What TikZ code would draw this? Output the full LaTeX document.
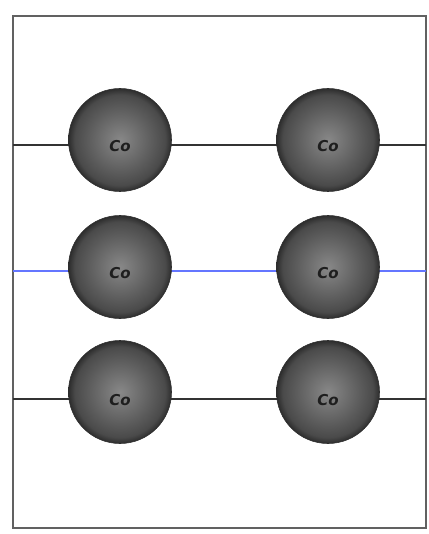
\documentclass[tikz,border=0pt]{standalone}
\usepackage{fontspec}
\usepackage{tikz}
\newfontfamily\cofont{DejaVu Sans}

\definecolor{ballcore}{RGB}{136,136,136}
\definecolor{ballmid}{RGB}{102,102,102}
\definecolor{ballrim}{RGB}{74,74,74}
\definecolor{rimline}{RGB}{45,45,45}
\definecolor{bondblue}{RGB}{100,118,255}
\definecolor{cogray}{RGB}{30,30,30}
\pgfdeclareradialshading{atomball}{\pgfpoint{0bp}{0bp}}{color(0bp)=(ballcore); color(12bp)=(ballmid); color(22bp)=(ballrim); color(25bp)=(rimline); color(50bp)=(rimline)}

\begin{document}
\begin{tikzpicture}[x=1pt,y=-1pt,
    frame/.style={draw=black!62,line width=1.6pt},
    bond/.style={line width=1.5pt,draw=black!80},
    atom/.style={circle,minimum size=103pt,inner sep=0pt,draw=rimline,line width=0.6pt,shading=atomball},
    colabel/.style={font=\cofont\bfseries\itshape\fontsize{15}{15}\selectfont,text=cogray}]
    \useasboundingbox (0,0) rectangle (428,534);
    \draw[frame] (13,16) rectangle (426,528);

    % chain ends on the frame
    \coordinate (l1) at (13,145);
    \coordinate (r1) at (426,145);
    \coordinate (l2) at (13,271);
    \coordinate (r2) at (426,271);
    \coordinate (l3) at (13,399);
    \coordinate (r3) at (426,399);

    \draw[bond] (l1) -- (r1);
    \draw[bond,draw=bondblue] (l2) -- (r2);
    \draw[bond] (l3) -- (r3);

    \node[atom,label={[colabel,yshift=-6pt]center:Co}] (a11) at (120,140) {};
    \node[atom,label={[colabel,yshift=-6pt]center:Co}] (a12) at (328,140) {};
    \node[atom,label={[colabel,yshift=-6pt]center:Co}] (a21) at (120,267) {};
    \node[atom,label={[colabel,yshift=-6pt]center:Co}] (a22) at (328,267) {};
    \node[atom,label={[colabel,yshift=-8pt]center:Co}] (a31) at (120,392) {};
    \node[atom,label={[colabel,yshift=-8pt]center:Co}] (a32) at (328,392) {};

\end{tikzpicture}
\end{document}
